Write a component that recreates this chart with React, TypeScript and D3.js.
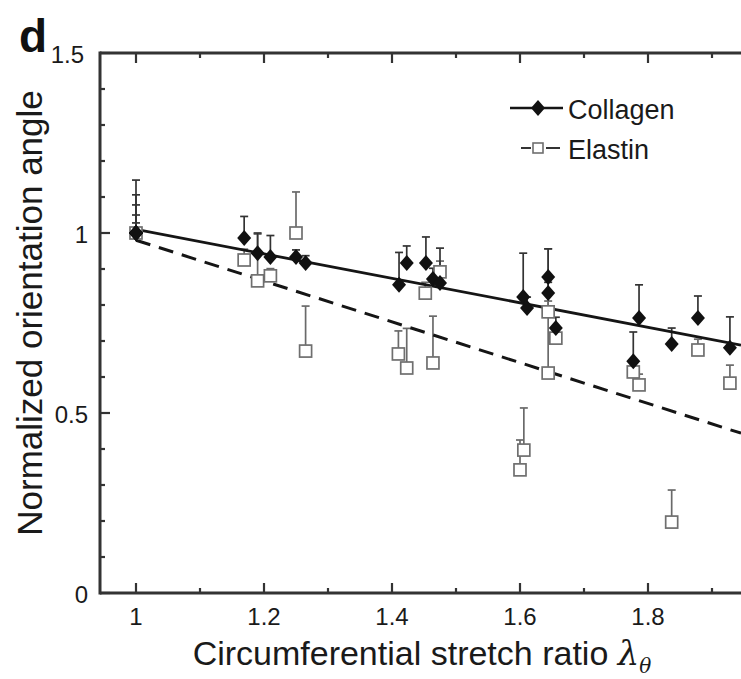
import React from "react";
import * as d3 from "d3";

const collagenX = [1.0, 1.0, 1.0, 1.0, 1.0, 1.169, 1.19, 1.21, 1.25, 1.265, 1.411, 1.423, 1.453, 1.464, 1.475, 1.605, 1.611, 1.644, 1.644, 1.656, 1.777, 1.786, 1.837, 1.878, 1.928];
const collagenY = [1.0, 1.0, 1.0, 1.0, 1.0, 0.986, 0.944, 0.933, 0.933, 0.917, 0.856, 0.917, 0.917, 0.872, 0.861, 0.822, 0.792, 0.878, 0.833, 0.736, 0.644, 0.764, 0.692, 0.764, 0.681];
const collagenErr = [0.147, 0.106, 0.078, 0.05, 0.028, 0.06, 0.056, 0.06, 0.02, 0.02, 0.09, 0.047, 0.072, 0.03, 0.097, 0.122, 0.03, 0.078, 0.03, 0.03, 0.081, 0.092, 0.044, 0.061, 0.086];

const elastinX = [1.0, 1.169, 1.19, 1.21, 1.25, 1.265, 1.41, 1.423, 1.452, 1.464, 1.475, 1.6, 1.606, 1.644, 1.644, 1.656, 1.777, 1.786, 1.837, 1.878, 1.928];
const elastinY = [1.0, 0.925, 0.867, 0.881, 1.0, 0.672, 0.664, 0.625, 0.833, 0.639, 0.892, 0.342, 0.397, 0.781, 0.611, 0.708, 0.614, 0.578, 0.197, 0.675, 0.583];
const elastinErr = [0, 0.03, 0.13, 0.02, 0.114, 0.125, 0.064, 0.11, 0.03, 0.13, 0.03, 0.083, 0.117, 0.03, 0.345, 0.03, 0.03, 0.03, 0.089, 0.03, 0.05];

const collagenFit = [1.01, -0.34];
const elastinFit = [0.98, -0.567];

const xMajorTicks = [1.0, 1.2, 1.4, 1.6, 1.8];
const xMinorTicks = [1.1, 1.3, 1.5, 1.7, 1.9];
const yMajorTicks = [0, 0.5, 1.0, 1.5];
const yMinorTicks = [0.1, 0.2, 0.3, 0.4, 0.6, 0.7, 0.8, 0.9, 1.1, 1.2, 1.3, 1.4];

const FONT = "'Liberation Sans', Arial, Helvetica, sans-serif";
const TEXT = "#1a1a1a";

export default function App() {
  const W = 741, H = 679;
  const left = 100, right = 741, top = 53, bottom = 593;
  const x = d3.scaleLinear().domain([0.94375, 1.94531]).range([left, right]);
  const y = d3.scaleLinear().domain([0, 1.5]).range([bottom, top]);

  const xEnd = x.invert(right);
  const fitLine = (f: number[]) =>
    d3.line<number>().x((v) => x(v)).y((v) => y(f[0] + f[1] * (v - 1)))([1.0, xEnd]) || "";

  const diamond = (cx: number, cy: number) =>
    `M${cx},${cy - 8}L${cx + 7},${cy}L${cx},${cy + 8}L${cx - 7},${cy}Z`;

  return (
    <div style={{ position: "fixed", left: 0, top: 0, width: W, height: H, background: "#fff" }}>
      <svg width={W} height={H} viewBox={`0 0 ${W} ${H}`} style={{ display: "block" }}>
        <defs>
          <clipPath id="plotClip">
            <rect x={left} y={top} width={right - left} height={bottom - top} />
          </clipPath>
        </defs>
        <rect x={0} y={0} width={W} height={H} fill="#fff" />

        {/* panel letter */}
        <text x={19} y={52} fontFamily={FONT} fontWeight="bold" fontSize={46} fill="#111">d</text>

        {/* error bars */}
        <g stroke="#6a6a6a" strokeWidth={1.7} fill="none">
          {elastinX.map((v, i) =>
            elastinErr[i] > 0 ? (
              <g key={"ee" + i}>
                <line x1={x(v)} x2={x(v)} y1={y(elastinY[i])} y2={y(elastinY[i] + elastinErr[i])} />
                <line x1={x(v) - 4} x2={x(v) + 4} y1={y(elastinY[i] + elastinErr[i])} y2={y(elastinY[i] + elastinErr[i])} />
              </g>
            ) : null
          )}
        </g>
        <g stroke="#333" strokeWidth={1.7} fill="none">
          {collagenX.map((v, i) => (
            <g key={"ce" + i}>
              <line x1={x(v)} x2={x(v)} y1={y(collagenY[i])} y2={y(collagenY[i] + collagenErr[i])} />
              <line x1={x(v) - 4} x2={x(v) + 4} y1={y(collagenY[i] + collagenErr[i])} y2={y(collagenY[i] + collagenErr[i])} />
            </g>
          ))}
        </g>

        {/* fit lines */}
        <g clipPath="url(#plotClip)">
          <path d={fitLine(collagenFit)} stroke="#151515" strokeWidth={2.8} fill="none" />
          <path d={fitLine(elastinFit)} stroke="#151515" strokeWidth={3} fill="none" strokeDasharray="15,9" />
        </g>

        {/* elastin squares */}
        <g fill="#fff" stroke="#6f6f6f" strokeWidth={1.7}>
          {elastinX.map((v, i) => (
            <rect key={"es" + i} x={x(v) - 6} y={y(elastinY[i]) - 6} width={12} height={12} />
          ))}
        </g>

        {/* collagen diamonds */}
        <g fill="#111">
          {collagenX.map((v, i) => (
            <path key={"cd" + i} d={diamond(x(v), y(collagenY[i]))} />
          ))}
        </g>

        {/* frame */}
        <g stroke="#333" strokeWidth={3} fill="none">
          <line x1={left} x2={right} y1={bottom} y2={bottom} />
          <line x1={left} x2={right} y1={top} y2={top} />
          <line x1={left} x2={left} y1={top - 1.5} y2={bottom + 1.5} />
        </g>
        <g stroke="#333" strokeWidth={2.2}>
          {xMajorTicks.map((t) => (
            <g key={"xM" + t}>
              <line x1={x(t)} x2={x(t)} y1={bottom} y2={bottom - 10} />
              <line x1={x(t)} x2={x(t)} y1={top} y2={top + 10} />
            </g>
          ))}
          {xMinorTicks.map((t) => (
            <g key={"xm" + t}>
              <line x1={x(t)} x2={x(t)} y1={bottom} y2={bottom - 5} />
              <line x1={x(t)} x2={x(t)} y1={top} y2={top + 5} />
            </g>
          ))}
          {yMajorTicks.map((t) => (
            <line key={"yM" + t} x1={left} x2={left + 10} y1={y(t)} y2={y(t)} />
          ))}
          {yMinorTicks.map((t) => (
            <line key={"ym" + t} x1={left} x2={left + 5} y1={y(t)} y2={y(t)} />
          ))}
        </g>

        {/* tick labels */}
        <g fontFamily={FONT} fontSize={24} fill={TEXT}>
          {xMajorTicks.map((t) => (
            <text key={"xl" + t} x={x(t)} y={625} textAnchor="middle">{d3.format("")(t)}</text>
          ))}
          {yMajorTicks.map((t) => (
            <text key={"yl" + t} x={t === 1.5 ? 84 : 88} y={y(t) + 2} dy="0.35em" textAnchor="end">{d3.format("")(t)}</text>
          ))}
        </g>

        {/* axis titles */}
        <text x={422} y={665} textAnchor="middle" fontFamily={FONT} fontSize={34} fill={TEXT}>
          Circumferential stretch ratio{" "}
          <tspan fontStyle="italic" fontFamily="'DejaVu Serif', serif">λ</tspan>
          <tspan fontStyle="italic" fontFamily="'DejaVu Serif', serif" fontSize={20} dy={8}>θ</tspan>
        </text>
        <text transform="translate(42,313) rotate(-90)" textAnchor="middle" fontFamily={FONT} fontSize={35} fill={TEXT}>
          Normalized orientation angle
        </text>

        {/* legend */}
        <g>
          <line x1={510} x2={563} y1={108} y2={108} stroke="#151515" strokeWidth={2.5} />
          <path d={diamond(538, 108)} fill="#111" />
          <text x={568} y={119} fontFamily={FONT} fontSize={27} fill={TEXT}>Collagen</text>
          <line x1={521} x2={531} y1={148} y2={148} stroke="#333" strokeWidth={2} />
          <line x1={546} x2={560} y1={148} y2={148} stroke="#333" strokeWidth={2} />
          <rect x={533} y={143} width={10} height={10} fill="#fff" stroke="#6f6f6f" strokeWidth={1.6} />
          <text x={568} y={159} fontFamily={FONT} fontSize={27} fill={TEXT}>Elastin</text>
        </g>
      </svg>
    </div>
  );
}
